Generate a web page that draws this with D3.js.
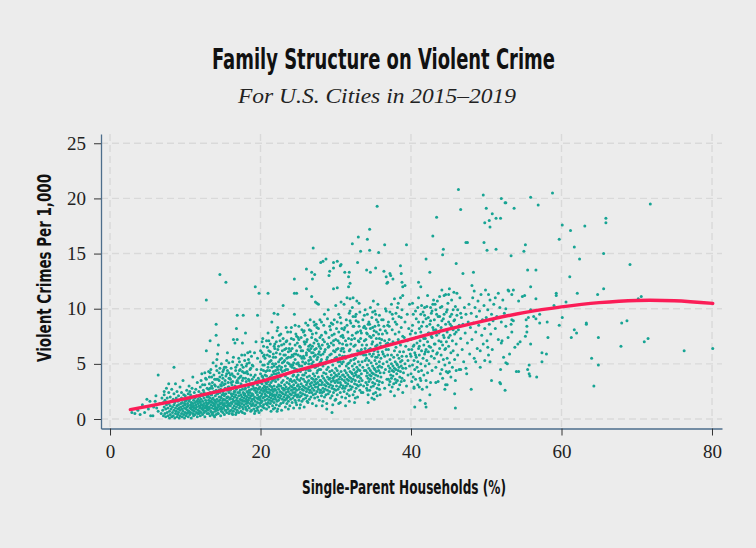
<!DOCTYPE html>
<html>
<head>
<meta charset="utf-8">
<script src="https://cdn.jsdelivr.net/npm/d3@7"></script>
<style>
  body { margin: 0; background: #ececec; }
  .narrow { font-family: "Liberation Sans Narrow", "DejaVu Sans Condensed", "Roboto", sans-serif; font-weight: bold; }
  .serif { font-family: "Liberation Serif", "DejaVu Serif", serif; }
</style>
</head>
<body>
<div class="container"></div>
<script>
const WIDTH = 756;
const HEIGHT = 548;
// plot frame
const LEFT = 101, RIGHT = 722, TOP = 134, BOTTOM = 428.5;

const xTicks = [0, 20, 40, 60, 80];
const yTicks = [0, 5, 10, 15, 20, 25];

// fitted curve
const fitX = [2.7, 5, 10, 15, 20, 25, 30, 35, 40, 45, 50, 55, 60, 65, 70, 75, 80.1];
const fitY = [0.85, 1.15, 1.85, 2.6, 3.4, 4.4, 5.35, 6.3, 7.25, 8.15, 8.95, 9.65, 10.17, 10.55, 10.75, 10.72, 10.48];

// cities: "pct,crime" pairs in tenths (single-parent % x10, crimes per 1,000 x10)
const citiesUnder10 = "29,6 37,8 40,4 43,13 49,18 53,16 54,3 57,3 58,11 60,16 61,21 64,7 66,14 68,5 69,19 51,9 33,5 62,10 46,6 64,40 85,47 " +
  "70,8 71,15 71,3 72,11 72,22 73,5 73,17 74,9 74,2 75,13 75,28 76,6 76,19 77,10 77,3 78,14 78,24 79,7 79,1 80,12 80,20 80,4 81,9 81,16 82,2 82,27 83,11 83,6 84,18 84,3 85,13 85,8 85,23 86,1 86,15 87,10 87,5 87,32 88,19 88,7 89,12 89,2 89,25 90,9 90,16 90,4 91,13 91,21 91,6 92,1 92,10 92,17 93,8 93,29 93,3 94,14 94,11 95,5 95,19 95,24 96,9 96,2 96,15 97,12 97,7 97,35 98,18 98,4 98,22 99,10 99,14 99,1 72,25 78,32";

const cities10to19 = "100,6 100,13 100,21 101,9 101,3 101,17 102,11 102,26 102,5 103,14 103,8 103,19 104,2 104,12 104,23 105,7 105,16 105,30 106,10 106,4 106,18 107,13 107,22 107,6 108,9 108,15 108,1 109,20 109,11 109,28 110,5 110,14 110,8 110,38 111,17 111,3 111,12 112,24 112,7 112,10 113,15 113,19 113,4 114,9 114,13 114,27 115,6 115,21 115,11 116,16 116,2 116,33 117,8 117,14 117,18 118,25 118,5 118,12 119,10 119,20 119,7 120,15 120,3 120,29 120,11 121,18 121,6 121,23 122,9 122,13 122,41 123,16 123,4 123,21 124,8 124,12 124,26 125,19 125,6 125,14 126,10 126,31 126,2 127,17 127,7 127,22 128,11 128,15 128,36 129,5 129,20 129,13 100,16 102,18 104,6 106,25 108,12 111,20 113,10 115,16 117,5 119,16 121,13 123,10 125,24 127,12 129,9 " +
  "130,8 130,14 130,21 131,27 131,5 131,17 132,11 132,32 132,9 133,19 133,3 133,24 134,13 134,7 134,16 135,22 135,10 135,38 136,4 136,15 136,28 137,12 137,19 137,6 138,25 138,9 138,14 139,17 139,2 139,31 140,11 140,21 140,7 141,15 141,26 141,4 142,18 142,10 142,44 143,13 143,23 143,8 144,16 144,29 144,5 145,20 145,12 145,35 146,9 146,17 146,24 147,14 147,3 147,27 148,19 148,11 148,7 149,22 149,15 149,40 150,6 150,13 150,25 151,18 151,10 151,31 152,14 152,21 152,4 153,17 153,8 153,28 154,12 154,23 154,47 155,15 155,6 155,19 156,26 156,11 156,16 157,9 157,33 157,20 158,14 158,5 158,24 159,18 159,12 159,37 130,11 131,20 132,15 133,28 134,22 135,6 136,18 137,24 138,3 139,13 140,16 141,9 142,23 143,5 144,11 145,26 146,14 147,20 148,30 149,9 150,17 151,23 152,12 153,35 154,8 155,27 156,20 157,13 158,29 159,7 133,42 137,51 141,36 146,46 150,43 155,53 158,42 " +
  "160,12 160,19 160,26 161,8 161,33 161,15 162,21 162,5 162,14 163,28 163,10 163,18 164,23 164,7 164,39 165,16 165,12 165,25 166,30 166,9 166,20 167,14 167,4 167,22 168,17 168,27 168,11 169,35 169,19 169,8 170,13 170,24 170,16 171,29 171,6 171,21 172,15 172,44 172,10 173,18 173,26 173,12 174,22 174,32 174,7 175,14 175,20 175,49 176,11 176,27 176,17 177,24 177,9 177,37 178,19 178,13 178,30 179,16 179,23 179,5 180,21 180,11 180,28 181,14 181,34 181,18 182,25 182,8 182,20 183,15 183,41 183,12 184,22 184,29 184,17 185,10 185,26 185,19 186,32 186,14 186,24 187,7 187,21 187,46 188,16 188,27 188,12 189,23 189,18 189,36 160,40 162,31 163,4 165,20 167,29 168,6 170,33 171,13 173,38 174,17 176,6 177,16 179,27 180,42 181,9 183,24 184,54 186,19 187,31 188,8 189,13 161,23 164,16 166,25 169,14 172,24 175,30 178,22 182,16 185,35 188,21 163,52 167,47 171,55 176,43 179,58 182,50 186,61 " +
  "121,35 126,42 129,28 132,38 134,45 136,33 138,40 140,30 141,48 143,36 145,42 147,31 148,50 150,37 151,45 153,32 154,39 156,44 157,29 158,51 160,36 161,46 162,41 163,34 164,56 166,38 167,44 168,33 169,49 170,41 171,37 172,52 173,45 174,39 175,58 176,35 177,47 178,42 179,53 180,37 181,48 182,43 183,60 184,36 185,51 186,45 187,40 188,57 189,49 123,31 127,37 131,43 135,30 139,36 142,54 146,38 149,33 152,47 155,41 158,37";

const cities19to28 = "190,14 190,22 190,30 191,9 191,18 191,38 192,26 192,12 192,20 193,16 193,33 193,7 194,24 194,13 194,28 195,19 195,10 195,45 196,22 196,15 196,31 197,27 197,11 197,18 198,35 198,20 198,6 199,24 199,14 199,29 200,17 200,41 200,12 201,21 201,26 201,8 202,32 202,16 202,23 203,19 203,28 203,49 204,13 204,25 204,36 205,20 205,10 205,30 206,23 206,17 206,40 207,27 207,14 207,33 208,21 208,9 208,25 209,18 209,44 209,29 210,15 210,24 210,34 211,20 211,11 211,27 212,31 212,17 212,52 213,22 213,14 213,38 214,26 214,19 214,7 215,29 215,23 215,16 216,35 216,12 216,21 217,25 217,43 217,18 218,30 218,15 218,22 219,27 219,10 219,37 190,48 192,5 193,40 195,25 196,8 197,37 199,19 200,33 201,15 203,11 204,57 206,29 207,21 209,13 210,47 211,37 213,30 214,33 216,27 217,9 218,48 219,20 191,28 194,35 198,28 202,39 205,26 208,32 212,24 215,40 218,36 192,60 196,55 200,62 205,58 209,65 213,61 217,56 219,68 194,70 203,73 211,71 " +
  "220,18 220,26 220,34 221,13 221,22 221,41 222,29 222,16 222,24 223,20 223,36 223,9 224,27 224,17 224,31 225,22 225,12 225,48 226,25 226,19 226,38 227,30 227,14 227,21 228,33 228,24 228,8 229,18 229,28 229,43 230,23 230,15 230,35 231,26 231,20 231,52 232,31 232,17 232,27 233,22 233,39 233,11 234,29 234,24 234,45 235,19 235,33 235,14 236,27 236,21 236,37 237,25 237,56 237,16 238,32 238,28 238,20 239,23 239,42 239,12 240,30 240,18 240,36 241,26 241,49 241,22 242,34 242,15 242,29 243,24 243,39 243,19 244,31 244,27 244,10 245,21 245,46 245,35 246,28 246,17 246,24 247,33 247,59 247,22 248,26 248,38 248,13 249,30 249,20 249,43 220,50 222,7 223,45 225,30 227,40 228,55 230,28 232,44 234,18 236,51 237,9 239,35 240,62 242,47 244,40 245,28 247,15 248,50 249,36 221,60 224,66 226,54 229,62 231,68 233,58 235,71 238,64 241,73 243,57 246,67 248,75 222,80 227,77 234,83 240,79 246,85 " +
  "250,22 250,31 250,40 251,17 251,27 251,49 252,35 252,20 252,29 253,24 253,43 253,13 254,32 254,21 254,37 255,27 255,16 255,55 256,30 256,23 256,45 257,36 257,18 257,26 258,40 258,29 258,11 259,22 259,34 259,50 260,28 260,19 260,42 261,31 261,25 261,60 262,38 262,21 262,33 263,27 263,46 263,15 264,35 264,29 264,53 265,24 265,39 265,18 266,32 266,26 266,44 267,30 267,64 267,20 268,37 268,33 268,24 269,28 269,49 269,14 270,36 270,22 270,41 271,31 271,57 271,26 272,39 272,19 272,34 273,29 273,47 273,23 274,36 274,32 274,12 275,25 275,54 275,42 276,33 276,20 276,29 277,38 277,68 277,27 278,31 278,45 278,17 279,35 279,24 279,51 250,58 252,10 254,62 256,40 258,70 260,51 262,16 264,66 266,56 268,74 270,60 272,63 274,78 276,48 278,66 251,72 255,81 259,76 263,85 267,80 271,88 275,83 279,90 253,65 257,57 261,70 265,62 269,66 273,72 277,59 " +
  "200,52 201,45 202,60 203,38 204,66 205,49 206,55 207,43 208,71 209,58 210,50 211,62 212,44 213,68 214,53 215,47 216,74 217,59 218,41 219,64 220,56 221,70 222,47 223,63 224,52 225,76 226,59 227,45 228,67 229,51 230,73 231,58 232,63 233,48 234,70 235,55 236,79 237,61 238,50 239,68 240,56 241,83 242,64 243,49 244,72 245,59 246,54 247,77 248,62 249,69 250,51 251,84 252,66 253,57 254,74 255,48 256,62 257,79 258,55 259,68 260,87 261,58 262,72 263,63 264,50 265,81 266,67 267,54 268,60 269,77 270,52 271,69 272,85 273,58 274,64 275,71 276,56 277,82 278,61 279,74 204,44 208,39 212,57 216,50 220,44 224,42 228,47 232,53 236,45 240,48 244,51 248,45 252,48 256,52 260,45 264,44 268,50 272,47 276,44 280,52 202,70 210,78 218,66 226,71 234,64 242,58 250,74 258,80 266,90 274,86";

const cities28to40 = "280,26 280,35 280,45 281,21 281,31 281,54 282,39 282,24 282,33 283,28 283,48 283,16 284,37 284,25 284,42 285,31 285,20 285,61 286,35 286,27 286,50 287,41 287,22 287,30 288,45 288,33 288,14 289,26 289,38 289,56 290,32 290,23 290,47 291,36 291,29 291,66 292,43 292,25 292,37 293,31 293,52 293,19 294,40 294,34 294,59 295,28 295,44 295,21 296,37 296,30 296,49 297,35 297,71 297,24 298,42 298,38 298,27 299,33 299,55 299,17 300,40 300,26 300,46 301,35 301,63 301,30 302,44 302,22 302,39 303,33 303,52 303,27 304,41 304,36 304,14 305,29 305,58 305,48 306,38 306,24 306,33 307,43 307,75 307,31 308,36 308,50 308,20 309,40 309,28 309,57 280,64 283,72 286,79 289,68 292,84 295,76 298,90 301,82 304,95 307,87 309,68 281,88 285,95 290,99 294,87 297,62 300,103 303,71 306,92 308,64 282,12 288,9 296,13 295,6 " +
  "310,30 310,40 310,52 311,25 311,35 311,61 312,44 312,28 312,38 313,33 313,55 313,19 314,42 314,30 314,48 315,36 315,23 315,67 316,40 316,32 316,57 317,46 317,26 317,35 318,51 318,38 318,16 319,30 319,43 319,63 320,37 320,27 320,53 321,42 321,34 321,72 322,48 322,29 322,41 323,36 323,58 323,22 324,45 324,39 324,66 325,32 325,50 325,25 326,42 326,35 326,55 327,40 327,78 327,28 328,47 328,43 328,31 329,38 329,62 329,20 330,45 330,30 330,52 331,39 331,70 331,34 332,49 332,26 332,44 333,37 333,59 333,31 310,74 312,83 314,90 316,79 318,96 320,87 322,101 324,84 326,93 328,107 330,88 332,97 333,80 311,104 315,110 319,98 323,93 327,89 331,105 313,12 325,15 " +
  "334,41 334,63 335,35 335,52 336,47 336,90 337,58 337,30 338,44 338,71 339,53 339,99 336,24 338,84 " +
  "340,33 340,44 340,58 341,28 341,39 341,67 342,49 342,31 342,42 343,37 343,62 343,22 344,46 344,34 344,53 345,40 345,26 345,75 346,44 346,36 346,64 347,51 347,29 347,39 348,57 348,42 348,19 349,33 349,48 349,70 350,41 350,30 350,59 351,46 351,37 351,80 352,53 352,32 352,45 353,40 353,66 353,24 354,50 354,43 354,73 355,35 355,56 355,28 356,47 356,39 356,61 357,44 357,85 357,31 358,52 358,48 358,34 359,42 359,69 359,22 340,82 342,95 344,88 346,101 348,92 350,107 352,98 354,90 356,104 358,94 341,78 345,86 349,83 353,95 357,77 343,15 351,18 355,21 " +
  "360,38 360,55 361,47 361,72 362,33 362,61 363,50 363,90 364,42 364,66 365,57 365,28 366,80 366,45 367,63 367,98 368,52 368,36 369,69 369,85 " +
  "370,36 370,48 370,63 371,31 371,43 371,72 372,54 372,34 372,46 373,40 373,68 373,25 374,50 374,37 374,58 375,44 375,29 375,81 376,48 376,39 376,70 377,56 377,32 377,43 378,62 378,46 378,21 379,36 379,52 379,77 380,45 380,33 380,65 381,50 381,41 381,86 382,58 382,35 382,49 383,44 383,72 383,27 384,55 384,47 384,79 385,38 385,61 385,31 386,52 386,43 386,67 387,48 387,92 387,34 388,57 388,53 388,37 389,46 389,75 389,24 370,88 372,97 374,104 376,91 378,109 380,96 382,101 384,93 386,110 388,99 371,84 375,95 379,88 383,105 387,83 389,112 " +
  "390,42 390,61 391,35 391,74 392,50 392,88 393,46 393,66 394,57 394,30 395,71 395,95 396,53 396,40 397,82 397,63 398,48 398,104 399,59 399,77 " +
  "280,58 281,76 282,67 283,59 284,85 285,70 286,63 287,78 288,54 289,91 290,65 291,74 292,58 293,81 294,69 295,53 296,86 297,67 298,77 299,61 300,72 301,56 302,88 303,64 304,79 305,69 306,52 307,62 308,82 309,76 310,64 311,81 312,57 313,71 314,67 315,85 316,50 317,73 318,62 319,89 320,68 321,58 322,76 323,84 324,54 325,73 326,67 327,95 328,58 329,79 330,71 331,84 332,61 333,73 334,78 335,67 336,59 337,83 338,94 339,64 340,72 341,55 342,77 343,86 344,63 345,59 346,82 347,74 348,68 349,97 350,76 351,62 352,84 353,56 354,79 355,67 356,88 357,58 358,73 359,81 360,66 361,90 362,77 363,59 364,84 365,71 366,100 367,68 368,78 369,58 300,18 306,15 318,21 326,19 334,24 342,26 350,23 358,27";

const cities40to52 = "400,41 400,57 400,72 401,34 401,63 402,49 402,85 403,38 403,66 404,53 404,28 405,60 405,45 406,78 406,36 407,56 407,91 408,47 408,69 409,31 409,52 410,64 410,43 411,82 411,58 412,37 412,71 413,50 413,95 414,62 414,44 415,27 415,75 416,55 416,88 417,40 417,67 418,59 418,101 419,48 419,73 420,35 420,63 421,84 421,53 422,70 422,42 423,92 423,61 424,78 424,50 425,86 426,65 426,33 427,96 427,57 428,74 428,44 429,104 429,62 430,81 431,55 431,90 432,68 433,47 433,99 434,76 435,60 435,107 436,85 437,52 437,71 438,93 438,64 439,80 439,41 402,105 406,98 410,110 414,103 418,94 422,112 426,101 430,108 434,95 438,111 405,11 412,17 419,14 425,22 " +
  "440,58 440,83 441,45 441,102 442,67 442,37 443,91 443,54 444,74 444,112 445,49 445,63 446,86 446,31 447,97 447,70 448,55 448,79 449,105 449,42 450,88 450,66 451,51 451,118 452,76 452,93 453,60 453,38 454,84 454,108 455,71 455,47 456,99 456,62 457,89 457,115 458,54 458,77 459,102 459,35 460,68 461,94 462,58 463,81 464,45 465,110 466,73 467,92 468,63 469,86 470,52 471,101 472,78 473,95 474,41 475,69 476,88 477,104 478,59 479,83 " +
  "480,96 481,72 482,110 483,87 484,55 485,101 486,79 487,93 488,64 489,107 490,85 491,98 492,47 493,113 494,76 495,90 496,68 497,103 498,82 499,117 500,92 501,71 502,99 503,58 504,86 505,108 506,77 507,95 508,63 509,89 510,104 512,82 514,93 516,72 518,101 520,88 " +
  "420,11 459,10 411,29 445,27 458,23 480,27 507,35 518,33 447,43 451,43 460,44 466,45 473,46 486,52 498,53 505,52 492,62 502,65 523,56 448,31 436,34 433,33 421,29 413,35 404,29 " +
  "401,80 403,95 404,67 406,58 407,74 409,101 410,88 411,66 413,79 414,84 416,97 417,73 419,61 420,91 421,102 423,78 424,66 426,89 427,75 428,98 429,83 431,68 432,104 433,81 434,59 436,93 437,78 439,101 440,70 441,89 443,76 444,95 446,64 447,81 448,99 450,74 452,86 454,95 456,81 458,90 460,79 462,99 464,85 466,96";

const citiesHighCrime = "146,131 154,124 128,108 193,120 198,114 210,114 245,127 261,136 270,155 268,133 272,131 280,142 283,143 287,145 297,142 302,143 306,139 307,140 292,134 297,137 291,130 245,114 248,114 261,118 268,111 275,105 277,104 230,103 297,118 302,119 312,133 318,133 317,129 319,123 317,120 322,159 330,165 342,163 333,152 345,153 357,151 365,158 329,142 341,135 346,133 353,137 364,134 372,132 367,129 373,130 369,124 345,172 355,193 " +
  "463,208 496,203 520,200 526,196 466,190 500,191 508,186 513,182 519,182 498,178 504,180 505,174 434,183 394,158 429,166 443,154 442,149 473,160 475,160 497,160 501,153 513,154 420,145 460,141 425,133 469,132 483,133 410,124 413,120 441,117 446,113 450,113 461,114 481,121 484,116 503,113 516,114 512,110 522,108 529,117 386,139 387,132 388,124 389,120 392,121 376,127 368,123 269,127 307,106 319,109 323,110 273,106 " +
  "169,94 177,94 196,94 218,96 223,95 245,95 141,86 168,82 180,78 215,88 223,83 141,76 133,71 144,67 164,72 169,72 166,69 176,69 128,62 143,59 156,60";

const citiesOver52 = "559,201 588,205 525,196 537,191 569,194 718,195 601,176 612,171 631,175 659,182 659,178 597,163 617,156 624,145 656,150 691,140 552,158 550,152 533,148 555,135 566,135 611,129 559,120 656,118 621,114 648,113 593,114 593,112 702,109 706,111 606,106 590,103 566,109 551,112 548,111 534,113 543,107 526,100 536,117 530,116 559,99 524,96 601,92 597,85 563,93 566,91 571,95 534,90 536,89 533,86 526,84 556,92 553,90 571,87 581,88 554,84 554,79 552,75 534,79 633,87 633,86 617,81 620,78 613,74 649,74 680,87 687,89 715,73 710,70 679,66 763,62 801,64 582,74 559,68 545,70 542,68 538,65 529,74 521,71 520,69 574,60 580,59 574,52 531,59 526,51 528,50 640,55 649,49 557,49 555,45 557,41 558,39 540,43 543,43 567,38 519,45 519,32 525,26 643,30";

function parsePairs(s) {
  return s.trim().split(/\s+/).map(function(p) {
    var v = p.split(",");
    return { x: +v[0] / 10, y: +v[1] / 10 };
  });
}

var data = [citiesUnder10, cities10to19, cities19to28, cities28to40, cities40to52, citiesHighCrime, citiesOver52]
  .map(parsePairs).reduce(function(a, b) { return a.concat(b); }, []);

var drawChart = function() {
  var x = d3.scaleLinear().domain([-1.2, 81.33]).range([LEFT, RIGHT]);
  var y = d3.scaleLinear().domain([-0.86, 25.84]).range([BOTTOM, TOP]);

  var svg = d3.select(".container")
    .append("svg")
    .attr("width", WIDTH)
    .attr("height", HEIGHT)
    .style("display", "block");

  svg.append("rect").attr("width", WIDTH).attr("height", HEIGHT).attr("fill", "#ececec");

  // dashed grid
  var grid = svg.append("g").attr("stroke", "#d9d9d9").attr("stroke-width", 1.4).attr("stroke-dasharray", "7,4");
  grid.selectAll(".gy").data(yTicks).enter().append("line")
    .attr("x1", LEFT).attr("x2", RIGHT)
    .attr("y1", function(d) { return y(d); }).attr("y2", function(d) { return y(d); });
  grid.selectAll(".gx").data(xTicks).enter().append("line")
    .attr("y1", TOP).attr("y2", BOTTOM)
    .attr("x1", function(d) { return x(d); }).attr("x2", function(d) { return x(d); });

  // points
  svg.append("g").selectAll("circle")
    .data(data)
    .enter().append("circle")
    .attr("cx", function(d) { return x(d.x); })
    .attr("cy", function(d) { return y(d.y); })
    .attr("r", 1.5)
    .attr("fill", "#17a494");

  // fit line
  var line = d3.line()
    .x(function(d) { return x(d[0]); })
    .y(function(d) { return y(d[1]); })
    .curve(d3.curveCatmullRom);
  svg.append("path")
    .datum(d3.zip(fitX, fitY))
    .attr("d", line)
    .attr("fill", "none")
    .attr("stroke", "#fb1d57")
    .attr("stroke-width", 3.4)
    .attr("stroke-linecap", "round");

  // axes
  var gx = svg.append("g")
    .attr("transform", "translate(0," + BOTTOM + ")")
    .call(d3.axisBottom(x).tickValues(xTicks).tickSize(7).tickSizeOuter(0).tickPadding(9));
  var gy = svg.append("g")
    .attr("transform", "translate(" + LEFT + ",0)")
    .call(d3.axisLeft(y).tickValues(yTicks).tickSize(7).tickSizeOuter(0).tickPadding(8));

  [gx, gy].forEach(function(g) {
    g.select(".domain").attr("stroke", "#4d6e8c").attr("stroke-width", 1.3);
    g.selectAll(".tick line").attr("stroke", "#333");
    g.selectAll(".tick text")
      .attr("class", "serif")
      .attr("font-size", 19)
      .attr("fill", "#222");
  });

  // titles
  svg.append("text")
    .attr("class", "narrow")
    .attr("x", 383.5).attr("y", 69)
    .attr("text-anchor", "middle")
    .attr("font-size", 28)
    .attr("textLength", 343).attr("lengthAdjust", "spacingAndGlyphs")
    .attr("fill", "#111")
    .text("Family Structure on Violent Crime");

  svg.append("text")
    .attr("class", "serif")
    .attr("x", 377).attr("y", 103)
    .attr("text-anchor", "middle")
    .attr("font-size", 21)
    .attr("font-style", "italic")
    .attr("textLength", 278).attr("lengthAdjust", "spacingAndGlyphs")
    .attr("fill", "#222")
    .text("For U.S. Cities in 2015\u20132019");

  svg.append("text")
    .attr("class", "narrow")
    .attr("x", 404).attr("y", 494)
    .attr("text-anchor", "middle")
    .attr("font-size", 19)
    .attr("textLength", 204).attr("lengthAdjust", "spacingAndGlyphs")
    .attr("fill", "#111")
    .text("Single-Parent Households (%)");

  svg.append("text")
    .attr("class", "narrow")
    .attr("transform", "translate(51,268) rotate(-90)")
    .attr("text-anchor", "middle")
    .attr("font-size", 19)
    .attr("textLength", 188).attr("lengthAdjust", "spacingAndGlyphs")
    .attr("fill", "#111")
    .text("Violent Crimes Per 1,000");
};

drawChart();
</script>
</body>
</html>
